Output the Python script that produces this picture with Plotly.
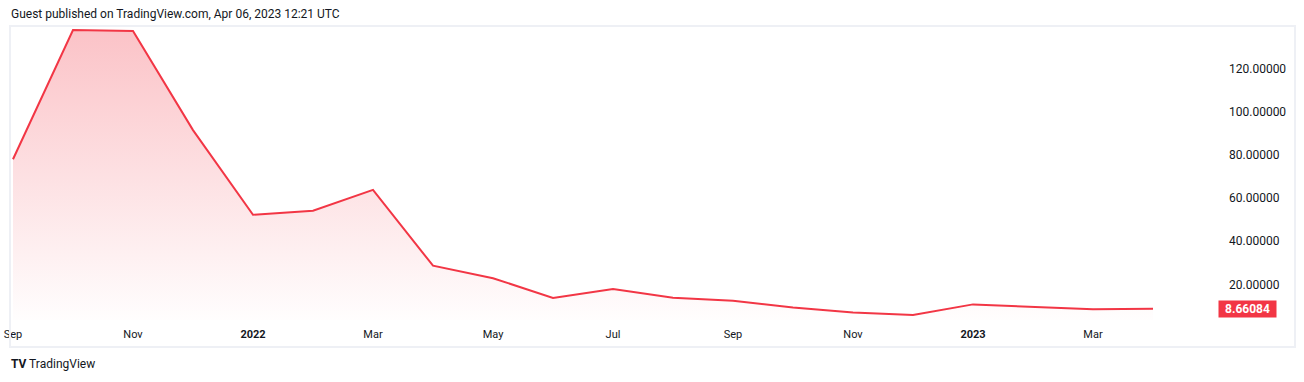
import plotly.graph_objects as go

# ---- data ----
months = ["2021-09", "2021-10", "2021-11", "2021-12", "2022-01", "2022-02", "2022-03",
          "2022-04", "2022-05", "2022-06", "2022-07", "2022-08", "2022-09", "2022-10",
          "2022-11", "2022-12", "2023-01", "2023-02", "2023-03", "2023-04"]
values = [77.9, 137.7, 137.3, 91.4, 52.2, 54.1, 63.7, 28.6, 22.8, 13.7, 17.8, 13.8,
          12.4, 9.3, 6.9, 5.8, 10.7, 9.6, 8.4, 8.66084]
tick_months = ["2021-09", "2021-11", "2022-01", "2022-03", "2022-05", "2022-07",
               "2022-09", "2022-11", "2023-01", "2023-03"]
tick_labels = ["Sep", "Nov", "<b>2022</b>", "Mar", "May", "Jul", "Sep", "Nov", "<b>2023</b>", "Mar"]
y_ticks = [20, 40, 60, 80, 100, 120]
y_tick_labels = ["20.00000", "40.00000", "60.00000", "80.00000", "100.00000", "120.00000"]
last_label = "8.66084"

# ---- layout geometry ----
WIDTH, HEIGHT = 1304, 382
L, R, T, B = 10, 1225, 27, 320
PW, PH = R - L, B - T
RED = "#F23645"
TXT = "#131722"
FONT = "Roboto, 'Noto Sans', sans-serif"


def px_x(p):
    return (p - L) / PW


def px_y(p):
    return (B - p) / PH


fig = go.Figure()
fig.add_trace(go.Scatter(
    x=list(range(len(months))), y=values, mode="lines",
    line=dict(color=RED, width=2),
    fill="tozeroy",
    fillgradient=dict(type="vertical",
                      colorscale=[[0, "rgba(242,54,69,0.0)"], [1, "rgba(242,54,69,0.30)"]]),
    hoverinfo="skip", showlegend=False,
))

idx = {m: i for i, m in enumerate(months)}

fig.update_layout(
    width=WIDTH, height=HEIGHT,
    margin=dict(l=L, r=WIDTH - R, t=T, b=HEIGHT - B, pad=0, autoexpand=False),
    paper_bgcolor="white", plot_bgcolor="white",
    font=dict(family=FONT, size=12, color=TXT),
    xaxis=dict(
        range=[-0.05, (PW / 60.0) - 0.05],
        tickmode="array", tickvals=[idx[m] for m in tick_months], ticktext=tick_labels,
        showgrid=False, zeroline=False, showline=False, ticks="",
        tickfont=dict(size=11, color=TXT, family=FONT),
        ticklabelstandoff=6, automargin=False,
        fixedrange=True,
    ),
    yaxis=dict(
        side="right",
        range=[(327.5 - B) / 2.16, (327.5 - T) / 2.16],
        tickmode="array", tickvals=y_ticks, ticktext=y_tick_labels,
        showgrid=False, zeroline=False, showline=False, ticks="",
        tickfont=dict(size=12, color=TXT, family=FONT),
        ticklabelstandoff=3, automargin=False,
        fixedrange=True,
    ),
    shapes=[
        dict(type="rect", xref="paper", yref="paper",
             x0=px_x(10), x1=px_x(1295), y0=px_y(347), y1=px_y(26),
             line=dict(color="#EEF0F5", width=2), fillcolor="rgba(0,0,0,0)", layer="above"),
    ],
    annotations=[
        dict(text="Guest published on TradingView.com, Apr 06, 2023 12:21 UTC",
             xref="paper", yref="paper", x=px_x(9), y=px_y(14),
             xanchor="left", yanchor="middle", showarrow=False,
             font=dict(size=12, color=TXT, family=FONT)),
        dict(text="<b>TV</b> TradingView",
             xref="paper", yref="paper", x=px_x(9), y=px_y(364),
             xanchor="left", yanchor="middle", showarrow=False,
             font=dict(size=12, color=TXT, family=FONT)),
        dict(text="<b>" + last_label + "</b>",
             xref="paper", yref="y", x=px_x(1218), y=values[-1],
             xanchor="left", yanchor="middle", showarrow=False,
             width=55, height=14, align="center", bgcolor=RED, borderpad=1,
             font=dict(size=12, color="white", family=FONT)),
    ],
)

fig.write_html("out.html")
